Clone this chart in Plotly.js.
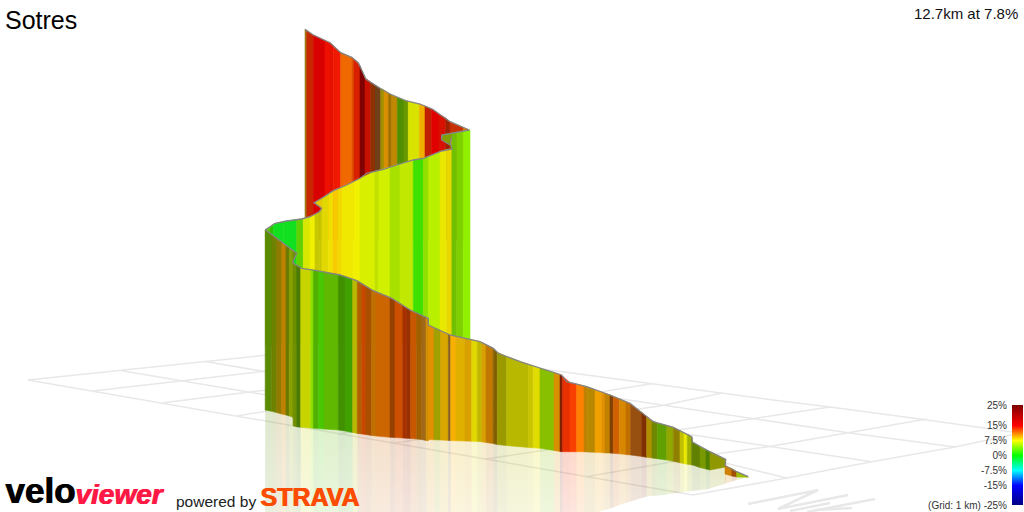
<!DOCTYPE html>
<html><head><meta charset="utf-8">
<script src="https://cdn.plot.ly/plotly-3.0.1.min.js"></script>
<style>html,body{margin:0;padding:0;background:#fff}#c{width:1024px;height:512px}</style></head>
<body><div id="c"></div>
<script>
const chartTitle='Sotres', summary='12.7km at 7.8%';
const gradeTicks=[25,15,7.5,0,-7.5,-15,-25];
const gradeLabels=['25%','15%','7.5%','0%','-7.5%','-15%','(Grid: 1 km) -25%'];
const gradeValues=[-25,-15,-7.5,0,7.5,15,25];

// far pass of the climb
const farX=[305,306.7,313.3,325,330,333.3,340.7,351.7,354,360,365,370.7,375,380.7,384,388.3,391.7,397.3,404,408.3,419.3,425,431.7,439,445.7,450,463.3,469.3];
const farTop=[29.3,30.5,35,40.5,42.7,45.5,52.7,57.3,59,66,78,82,85,88.5,90,93,95,97.5,100,101.5,104,106,109,114,118,121.7,127.5,130];
const farBottom=[240,240,240,240,240,240,240,240,240,240,240,240,240,240,240,240,240,240,240,240,240,240,240,240,240,240,240,240];
const farColor=['#9a7a10','#c82800','#d80000','#f01000','#e41000','#f01800','#f06800','#e05000','#d82000','#800000','#c81000','#903000','#704018','#a09000','#d89000','#a07000','#c08800','#509000','#689800','#d8e400','#f0b000','#c02000','#e00000','#d81000','#a02000','#c83000','#e07000'];
const farLineX=[305,313.3,330,340.7,351.7,358.3,361.7,366,380,390,406.7,420,432.7,450,469.3];
const farLineY=[29.3,35,42.7,52.7,57.3,62.7,70,79.3,88.3,94,101,104,109.3,121.7,130];

// middle pass
const midX=[265.5,270,273.3,283.3,296.7,303.3,310,315,319.3,321.5,321.9,328.3,333.3,337.3,341.7,353.3,360,375,378.3,390,400,413.3,423.3,428.3,440,446.7,451.5,451.9,456.7,463.3,470];
const midTop=[230,227.5,224.5,221.6,219.6,218.5,216.7,214.3,211.7,209,198.3,194,190.7,189,187.2,181.8,178.3,171.3,170.5,167,164,160,158.3,156.5,151.5,149.5,148.7,133,132.2,131,130];
const midBottom=[345,345,345,345,345,345,345,345,345,345,345,345,345,345,345,345,345,345,345,345,345,345,345,345,345,345,345,345,345,345,345];
const midColor=['#60c800','#30c000','#10e020','#10e020','#60d000','#d8e800','#f0f000','#c8c800','#c8c800','#c8c800','#e0d800','#f0e000','#f8c800','#f0d800','#f0e800','#f0f000','#d8f000','#c0e000','#d0f000','#a8e000','#c0e800','#40e000','#90e000','#b8f000','#e8e800','#e8d800','#e8d800','#70c000','#80d000','#90f000'];
const midLineAX=[469.3,453.3,441.7,441.7,449.3];
const midLineAY=[130,132.7,135,140,144.5];
const midLineBX=[451.7,450.3,452,441.7,423.3,413.3,396.7,383.3,366.7,360,346.7,333.3,323.3,314,321.7,319.3,310,301.7,286.7,275,265];
const midLineBY=[137,143,149,151,158.3,160,165,169.3,173.3,178.3,185,190.7,197.3,202.7,208.3,211.7,216.7,219,221,223.3,230];
const backFoldX=[441.7,451.9,451,450.5,452,449.3,441.7];
const backFoldY=[135,133,140,144,149.5,144.5,140];
const midFoldX=[314,321.9,321.7];
const midFoldY=[202.7,198.3,208.3];

// front pass
const frontX=[265.2,271.7,276.7,281.7,286,289.3,293,293.4,296.7,300.7,
310.7,313.3,318.3,324,338.3,345,352.7,357.3,361.7,366,
371.7,376,390,395,402.7,406.7,410.7,416.7,421.7,426,
428.2,428.5,434,440.7,448.3,450.7,456,465,471.7,477.3,
481.7,486,493.3,497.3,506.7,528.3,533.3,540,554,560,
562.7,570,576.7,584,587.3,595,601.7,605,610,613.3,
619.3,626,630.7,641.7,646.7,652,657.3,666.7,673.3,680,
684,687.3,691.7,692.5,700,706,710,725.7];
const frontTop=[230,235,238.5,242.5,246,248.5,251,263,265.5,267.7,
269.5,270,271,272,274.6,276.5,279.3,281,283.5,286.3,
289.7,292,297.6,300.6,305.3,307.9,310.3,313,315.3,317.3,
318.3,325,328,330.7,334.3,335.2,336.5,338.3,339.7,341,
342.5,344.6,348.3,352.3,356.5,364.4,366,368.3,372.6,374.5,
376.5,382.5,384,386,387,389.8,392,393.2,395,396.4,
398.9,401.7,404,412.5,416.5,420.7,423,425.5,427.3,430.7,
432.8,434.5,436.7,442,447,450,451.7,459.5];
const frontBottom=[410,411.3,412.6,414,415,416,417.3,426,426.8,427.2,
428,428.3,428.6,429,430,431,432.5,433.5,434,434.6,
435.4,436,437.3,437.6,438,438.3,438.6,439,439.6,440.4,
440.7,439.5,439.8,440,440.4,440.6,440.8,441,441.2,441.5,
441.8,442.5,443.6,444.6,445.6,447.4,447.8,448.3,450.4,451.5,
451.7,451.7,451.7,451.7,452,452.3,452.6,452.9,453,453.3,
453.8,454.6,455,456.4,457.3,458,458.7,460,461.3,462.8,
463.5,464.2,465,465,467.5,469,470,467];
const frontLow=[513,513,513,513,513,513,513,513,513,513,
513,513,513,513,513,513,513,513,513,513,
513,513,513,513,513,513,513,513,513,513,
513,513,513,513,513,513,513,513,513,513,
513,513,513,513,513,513,513,513,513,513,
513,513,513,513,513,513,511,510,508.5,507.5,
505,503,501.5,498,496.5,496,495.5,494.5,493.5,492.5,
492,491.5,491,491,490,489.5,488.5,483.5];
const frontColor=['#5a8a00','#6e8200','#907a00','#c08000','#6a7a00','#8aa000','#6f8f00','#6f8f00','#4a7a00','#c8d400',
'#90e000','#50b000','#48c800','#60b800','#409000','#40a000','#b8b800','#b06000','#c84800','#a85000',
'#c07000','#cc6600','#984000','#cc5000','#a83000','#983000','#c85800','#a06000','#a06818','#d09000',
'#d09000','#e09000','#a0a000','#d8a800','#886020','#f8b000','#e0b000','#d8a000','#e0d800','#c0b800',
'#d8a000','#c07800','#806000','#9a9a00','#b8b800','#c8c400','#e0dc00','#88c000','#d89000','#802000',
'#e83000','#f84000','#ff8000','#c08000','#b88800','#f0a000','#e09000','#c08000','#804000','#d06000',
'#d88800','#c07000','#985010','#803000','#b09000','#708800','#60a000','#90a800','#908000','#c0c000',
'#e8e800','#a0b000','#608000','#608000','#7a9800','#508000','#909800'];
const frontFoldX=[293,296.7,293];
const frontFoldY=[251,253.3,262.7];
const tailX=[725,731.7,736.7,748.3];
const tailTop=[465.5,468.6,471.7,476.7];
const tailBottom=[474,476,477,477.2];
const tailLow=[483.5,481.5,480,477.2];
const tailColor=['#d08000','#a05000','#a0c000'];
const frontLineX=[265.7,285,296.7,292.7,301.7,316.7,340,356.7,373.3,391.7,410,428.3,428.3,450,470,480,493.3,498.3,520,540,561.7,566.7,586.7,610,630,653.3,673.3,691.7,692.5,710,725.7,725,736.7,748.3];
const frontLineY=[230,245,253.3,262.7,268.3,270.7,275,280.7,290.7,298.3,310,318.3,325,335,339.3,341.7,348.3,353.3,361.7,368.3,375,381.7,386.7,395,403.3,421.7,427.3,436.7,442,451.7,459.5,465.5,471.7,476.7];

// ground grid and faint compass letters
const gridX=[28,693,null,28,267,null,693,786.7,871.7,955,1020,null,121.7,181.7,250,725,786.7,null,206.7,267,693,871.7,null,366,555,773,830,920,1020,null,300,680,751.7,848,955,null,93,181.7,267,null,163.3,250,267,null,236.7,267,null,338,600,653,null,394,660,722,null,486,680,751.7,830,null,586,723,768.3,848.3,926.7];
const gridY=[380,495,null,380,355,null,495,478,461.7,447,433,null,370.7,381,392.3,463,478,null,361.7,372,435,461.7,null,344.5,370.7,400,407,419,433,null,351,408,419,432.7,447,null,391,381,371,null,402.7,392.3,390,null,416,411,null,434,391.7,383.5,null,443,406,393,null,459,430,419,407,null,476.7,453,446.7,432.7,419];
const compassX=[748,818,778,848,null,790,830,null,807,875,null,815,852];
const compassY=[504,490,509,495,null,511,503,null,512,499,null,510,508];

function rgba(h,a){const n=parseInt(h.slice(1),16);return `rgba(${n>>16},${(n>>8)&255},${n&255},${a})`;}
const traces=[];
function line(x,y,color,width){traces.push({type:'scatter',mode:'lines',x,y,line:{color,width},hoverinfo:'skip'});}
function bands(X,T,B,C){
  for(let i=0;i<C.length;i++){
    traces.push({type:'scatter',mode:'lines',fill:'toself',fillcolor:C[i],
      x:[X[i],X[i+1],X[i+1],X[i],X[i]],y:[T[i],T[i+1],B[i+1],B[i],T[i]],
      line:{color:C[i],width:0.6},hoverinfo:'skip'});
  }
}
function reflection(X,B,L,C){
  for(let i=0;i<C.length;i++){
    traces.push({type:'scatter',mode:'lines',fill:'toself',
      fillgradient:{type:'vertical',start:B[i],stop:516,colorscale:[[0,rgba(C[i],0.2)],[1,rgba(C[i],0.13)]]},
      x:[X[i],X[i+1],X[i+1],X[i],X[i]],y:[B[i],B[i+1],L[i+1],L[i],B[i]],
      line:{width:0},hoverinfo:'skip'});
  }
}
function patch(x,y,color){traces.push({type:'scatter',mode:'lines',fill:'toself',fillcolor:color,x,y,line:{color,width:0.5},hoverinfo:'skip'});}

line(gridX,gridY,'#e8e8e8',1.5);
line(compassX,compassY,'#e8e8e8',2.5);
reflection(frontX,frontBottom,frontLow,frontColor);
reflection(tailX,tailBottom,tailLow,tailColor);
bands(farX,farTop,farBottom,farColor);
line(farLineX,farLineY,'#858585',1.3);
bands(midX,midTop,midBottom,midColor);
patch(backFoldX,backFoldY,'#80a000');
patch(midFoldX,midFoldY,'#e8c800');
line(midLineAX,midLineAY,'#858585',1.3);
line(midLineBX,midLineBY,'#858585',1.3);
bands(frontX,frontTop,frontBottom,frontColor);
patch(frontFoldX,frontFoldY,'#6f8f00');
bands(tailX,tailTop,tailBottom,tailColor);
line(frontLineX,frontLineY,'#858585',1.3);

traces.push({type:'heatmap',xaxis:'x2',yaxis:'y2',x:[0,1],y:gradeValues,z:gradeValues.map(v=>[v,v]),zmin:-25,zmax:25,zsmooth:'best',showscale:false,hoverinfo:'skip',
  colorscale:[[0,'#000080'],[0.2,'#0000ff'],[0.35,'#00ffff'],[0.5,'#00ff00'],[0.65,'#ffff00'],[0.8,'#ff0000'],[1,'#800000']]});

const sans='"Liberation Sans",Arial,sans-serif';
function note(text,x,y,xanchor,size,color,extra){return {text,x,y,xref:'x',yref:'y',xanchor,yanchor:'middle',showarrow:false,borderpad:0,font:Object.assign({family:sans,size,color},extra||{})};}
const layout={width:1024,height:512,margin:{l:0,r:0,t:0,b:0},paper_bgcolor:'#fff',plot_bgcolor:'rgba(0,0,0,0)',showlegend:false,hovermode:false,
  title:{text:chartTitle,x:5/1024,xanchor:'left',y:1-20/512,yanchor:'middle',font:{family:sans,size:25,color:'#000'}},
  xaxis:{range:[0,1024],visible:false,fixedrange:true},
  yaxis:{range:[512,0],visible:false,fixedrange:true},
  xaxis2:{domain:[1012/1024,1023/1024],range:[0,1],visible:false,anchor:'y2'},
  yaxis2:{domain:[7/512,107/512],range:[-25,25],anchor:'x2',side:'left',tickmode:'array',tickvals:gradeTicks,ticktext:gradeLabels,ticklen:0,showgrid:false,zeroline:false,showline:false,ticklabelstandoff:2,tickfont:{family:sans,size:10,color:'#333'}},
  annotations:[
    note(summary,1019,13,'right',15,'#111'),
    note('velo',4,490,'left',35,'#000',{weight:700,shadow:'1px 0 0 #000'}),
    note('viewer',74,494,'left',28,'#ff1a46',{weight:700,style:'italic',shadow:'1px 0 0 #ff1a46'}),
    note('powered by',175,501,'left',15.5,'#222'),
    note('STRAVA',259,497,'left',25,'#fc4c02',{weight:700,shadow:'1px 0 0 #fc4c02'})
  ]};
Plotly.newPlot('c',traces,layout,{displayModeBar:false,staticPlot:true});
</script></body></html>
